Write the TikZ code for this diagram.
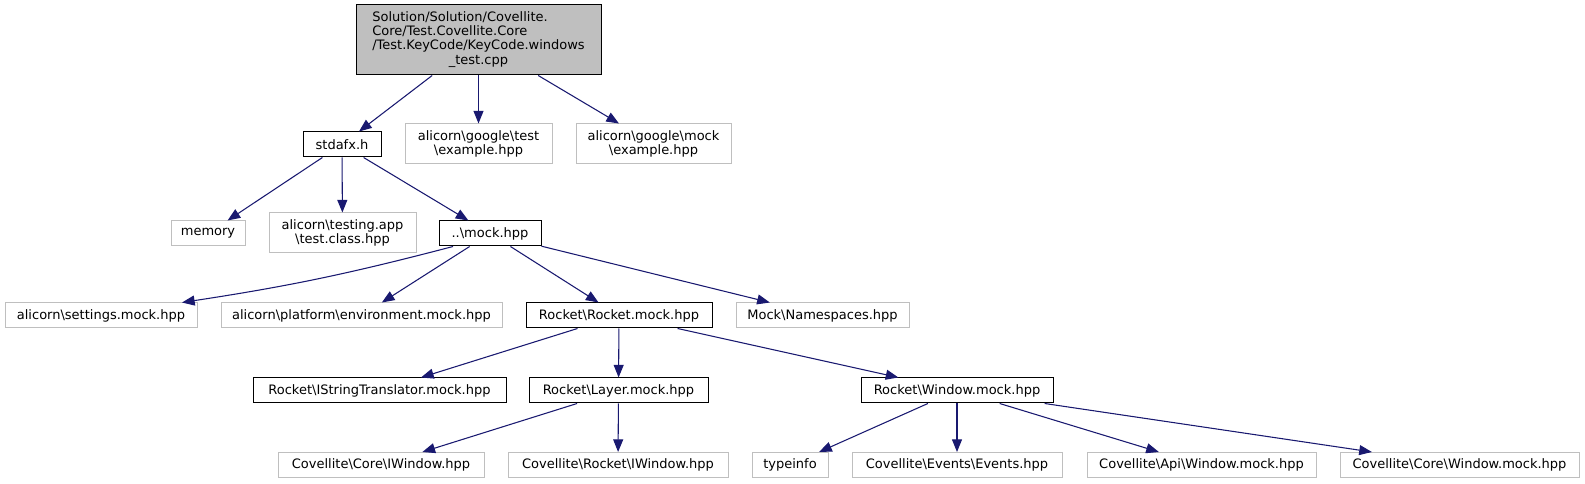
\documentclass[tikz,border=0pt]{standalone}
\usepackage{fontspec}
\setmainfont{DejaVu Sans}
\usepackage{tikz}
\usetikzlibrary{arrows.meta}
\usetikzlibrary{calc}
\definecolor{depblue}{HTML}{191970}
\definecolor{boxgray}{HTML}{BFBFBF}
\newcommand{\bsl}{\textbackslash}

\begin{document}
\begin{tikzpicture}[x=0.75pt, y=-0.75pt,
		font=\fontsize{9.75pt}{10.6pt}\selectfont,
		every node/.style={inner sep=0pt, align=center, minimum height=18.75pt},
		hdr/.style={draw=black, line width=0.75pt},
		ext/.style={draw=boxgray, line width=0.75pt},
		dep/.style={draw=depblue, line width=0.8pt, -{Triangle[length=9.5pt,width=7.5pt]}}]
		\useasboundingbox (0,0) rectangle (1585,484);
		% the test file
		\node (root) [hdr, fill=boxgray, minimum width=183.75pt, minimum height=52.5pt] at (478.5,40)
			{\begin{tabular}{@{}l@{}}Solution/Solution/Covellite.\\Core/Test.Covellite.Core\\/Test.KeyCode/KeyCode.windows\\\multicolumn{1}{@{}c@{}}{\_test.cpp}\end{tabular}};
		% second row
		\node (stdafx) [hdr, minimum width=58.5pt] at (342,144.5) {stdafx.h};
		\node (gtest) [ext, minimum width=110.25pt, minimum height=30pt] at (478.5,144) {alicorn\bsl google\bsl test\\\bsl example.hpp};
		\node (gmock) [ext, minimum width=116.25pt, minimum height=30pt] at (653.5,144) {alicorn\bsl google\bsl mock\\\bsl example.hpp};
		% third row
		\node (memory) [ext, minimum width=55.5pt] at (208,233.5) {memory};
		\node (testing) [ext, minimum width=110.25pt, minimum height=30pt] at (342.5,233) {alicorn\bsl testing.app\\\bsl test.class.hpp};
		\node (mock) [hdr, minimum width=76.5pt] at (490,233.5) {..\bsl mock.hpp};
		% fourth row
		\node (settings) [ext, minimum width=144pt] at (101,315.5) {alicorn\bsl settings.mock.hpp};
		\node (environment) [ext, minimum width=210.75pt] at (361.5,315.5) {alicorn\bsl platform\bsl environment.mock.hpp};
		\node (rocketmock) [hdr, minimum width=139.5pt] at (619,315.5) {Rocket\bsl Rocket.mock.hpp};
		\node (namespaces) [ext, minimum width=129.75pt] at (822.5,315.5) {Mock\bsl Namespaces.hpp};
		% fifth row
		\node (translator) [hdr, minimum width=189.75pt] at (379.5,390.5) {Rocket\bsl IStringTranslator.mock.hpp};
		\node (layer) [hdr, minimum width=134.25pt] at (618.5,390.5) {Rocket\bsl Layer.mock.hpp};
		\node (window) [hdr, minimum width=144pt] at (957,390.5) {Rocket\bsl Window.mock.hpp};
		% last row
		\node (coreiwindow) [ext, minimum width=154.5pt] at (381,465) {Covellite\bsl Core\bsl IWindow.hpp};
		\node (rocketiwindow) [ext, minimum width=165pt] at (618,465) {Covellite\bsl Rocket\bsl IWindow.hpp};
		\node (typeinfo) [ext, minimum width=57pt] at (790,465) {typeinfo};
		\node (events) [ext, minimum width=157.5pt] at (957,465) {Covellite\bsl Events\bsl Events.hpp};
		\node (apiwindow) [ext, minimum width=171.75pt] at (1201.5,465) {Covellite\bsl Api\bsl Window.mock.hpp};
		\node (corewindow) [ext, minimum width=179.25pt] at (1459.5,465) {Covellite\bsl Core\bsl Window.mock.hpp};
		% includes
		\draw[dep] (root) -- (stdafx);
		\draw[dep] (root) -- (gtest);
		\draw[dep] (root) -- (gmock);
		\draw[dep] (stdafx) -- (memory);
		\draw[dep] (stdafx) -- (testing);
		\draw[dep] (stdafx) -- (mock);
		\draw[dep] ($(mock.south)+(-37,0)$) to[bend left=3] ($(settings.north)+(81,0)$);
		\draw[dep] (mock) -- (environment);
		\draw[dep] (mock) -- (rocketmock);
		\draw[dep] (mock) -- (namespaces);
		\draw[dep] (rocketmock) -- (translator);
		\draw[dep] (rocketmock) -- (layer);
		\draw[dep] (rocketmock) -- (window);
		\draw[dep] (layer) -- (coreiwindow);
		\draw[dep] (layer) -- (rocketiwindow);
		\draw[dep] (window) -- (typeinfo);
		\draw[dep] (window) -- (events);
		\draw[dep] (window) -- (apiwindow);
		\draw[dep] (window) -- (corewindow);
	\end{tikzpicture}
\end{document}
